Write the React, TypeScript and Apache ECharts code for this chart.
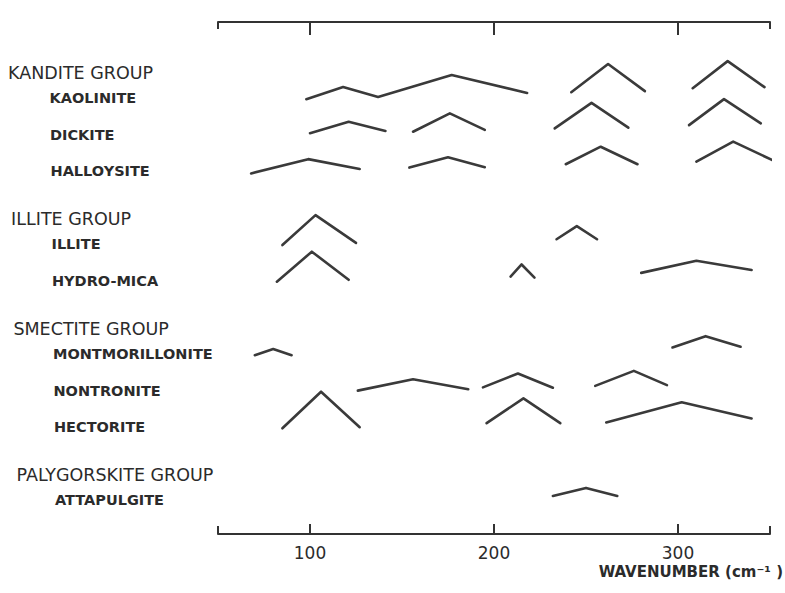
import React, { useEffect, useRef } from "react";
import * as echarts from "echarts";

// ---- data ----
const groupNames = ["KANDITE GROUP", "ILLITE GROUP", "SMECTITE GROUP", "PALYGORSKITE GROUP"];
const mineralNames = [
  "KAOLINITE",
  "DICKITE",
  "HALLOYSITE",
  "ILLITE",
  "HYDRO-MICA",
  "MONTMORILLONITE",
  "NONTRONITE",
  "HECTORITE",
  "ATTAPULGITE",
];
const mineralGroup = [0, 0, 0, 1, 1, 2, 2, 2, 3];

const axisMin = 50;
const axisMax = 350;
const tickValues = [100, 200, 300];
const endValues = [50, 350];
const axisTitle = "WAVENUMBER (cm⁻¹ )";

// Each band: [wavenumber (cm-1), height above the row baseline (tenths of a row)]
const kaoliniteBands = [
  [[98, -1.1], [118, 2.2], [137, -0.5], [177, 5.5], [218, 0.6]],
  [[242, 0.8], [262, 8.5], [282, 1.1]],
  [[308, 1.9], [327, 9.3], [347, 2.2]],
];
const dickiteBands = [
  [[100, -0.4], [121, 2.7], [141, 0.2]],
  [[156, 0], [176, 5.0], [195, 0.5]],
  [[233, 0.9], [253, 7.9], [273, 1.1]],
  [[306, 1.8], [325, 8.9], [345, 2.3]],
];
const halloysiteBands = [
  [[68, -1.4], [99, 2.5], [127, -0.2]],
  [[154, 0.2], [175, 3.0], [195, 0.3]],
  [[239, 1.1], [258, 5.9], [278, 1.1]],
  [[310, 1.8], [330, 7.3], [351, 2.3]],
];
const illiteBands = [
  [[85, -1.0], [103, 7.2], [125, -0.4]],
  [[234, 0.6], [245, 4.2], [256, 0.6]],
];
const hydroMicaBands = [
  [[82, -1.0], [101, 7.2], [121, -0.5]],
  [[209, 0.4], [215, 3.7], [222, 0.1]],
  [[280, 1.4], [310, 4.7], [340, 2.2]],
];
const montmorilloniteBands = [
  [[70, -1.1], [80, 0.6], [90, -1.1]],
  [[297, 1.0], [315, 4.1], [334, 1.2]],
];
const nontroniteBands = [
  [[126, -0.8], [156, 2.3], [186, -0.4]],
  [[194, 0.1], [213, 3.9], [232, 0]],
  [[255, 0.5], [276, 4.6], [294, 0.7]],
];
const hectoriteBands = [
  [[85, -1.1], [106, 8.9], [127, -0.8]],
  [[196, 0.3], [216, 7.1], [236, 0.3]],
  [[261, 0.5], [302, 6.0], [340, 1.6]],
];
const attapulgiteBands = [
  [[232, 0.4], [250, 2.6], [267, 0.4]],
];

const mineralBands = [
  kaoliniteBands,
  dickiteBands,
  halloysiteBands,
  illiteBands,
  hydroMicaBands,
  montmorilloniteBands,
  nontroniteBands,
  hectoriteBands,
  attapulgiteBands,
];

// ---- layout / style ----
const FONT = '"DejaVu Sans", sans-serif';
const INK = "#2b2b2b";
const LINE = "#3a3a3a";

export default function App() {
  const ref = useRef<HTMLDivElement>(null);

  useEffect(() => {
    if (!ref.current) return;
    const chart = echarts.init(ref.current, null, { renderer: "svg" });

    // sequential row slots: group header, then its minerals
    const mineralRow: number[] = [];
    const groupRow: number[] = [];
    let slot = 1;
    groupNames.forEach((_, g) => {
      groupRow[g] = slot + 0.4;
      slot += 1;
      mineralNames.forEach((_, i) => {
        if (mineralGroup[i] === g) {
          mineralRow[i] = slot;
          slot += 1;
        }
      });
    });
    const rowMax = slot;

    const series: any[] = [];
    mineralNames.forEach((name, i) => {
      mineralBands[i].forEach((band, j) => {
        series.push({
          type: "line",
          name: `${name} ${j + 1}`,
          data: band.map(([wn, h]) => [wn, mineralRow[i] - h / 10]),
          symbol: "none",
          clip: false,
          silent: true,
          lineStyle: { color: LINE, width: 2.6, cap: "round", join: "round" },
        });
      });
    });

    const tickStyle = { color: "#333", width: 2 };
    const baseX = {
      type: "value",
      min: axisMin,
      max: axisMax,
      splitLine: { show: false },
    };

    chart.setOption({
      animation: false,
      backgroundColor: "#ffffff",
      grid: { left: 218, right: 15, top: 22, bottom: 59, outerBoundsMode: "none" },
      xAxis: [
        {
          ...baseX,
          position: "bottom",
          axisLine: { onZero: false, lineStyle: { color: "#333", width: 2 } },
          axisTick: { inside: true, length: 10, customValues: tickValues, lineStyle: tickStyle },
          axisLabel: {
            customValues: tickValues,
            margin: 10,
            fontSize: 17,
            color: INK,
            fontFamily: FONT,
          },
        },
        {
          ...baseX,
          position: "bottom",
          axisLine: { show: false, onZero: false },
          axisTick: { inside: true, length: 8, customValues: endValues, lineStyle: tickStyle },
          axisLabel: { show: false },
        },
        {
          ...baseX,
          position: "top",
          axisLine: { onZero: false, lineStyle: { color: "#333", width: 2 } },
          axisTick: { inside: true, length: 13, customValues: tickValues, lineStyle: tickStyle },
          axisLabel: { show: false },
        },
        {
          ...baseX,
          position: "top",
          axisLine: { show: false, onZero: false },
          axisTick: { inside: true, length: 7, customValues: endValues, lineStyle: tickStyle },
          axisLabel: { show: false },
        },
      ],
      yAxis: { type: "value", min: 0, max: rowMax, inverse: true, show: false },
      series,
    });

    const yPx = (v: number) => chart.convertToPixel({ yAxisIndex: 0 }, v) as number;
    const graphic: any[] = [];
    groupNames.forEach((name, g) => {
      const y = yPx(groupRow[g]);
      graphic.push({
        type: "text",
        x: 8 + 0.021 * (y - 72),
        y,
        style: {
          text: name,
          fontFamily: FONT,
          fontSize: 17.5,
          fill: INK,
          textAlign: "left",
          textVerticalAlign: "middle",
        },
      });
    });
    mineralNames.forEach((name, i) => {
      const y = yPx(mineralRow[i] + 0.08);
      graphic.push({
        type: "text",
        x: 49.5 + 0.0135 * (y - 97),
        y,
        style: {
          text: name,
          fontFamily: FONT,
          fontSize: 14.5,
          fontWeight: "bold",
          fill: INK,
          textAlign: "left",
          textVerticalAlign: "middle",
        },
      });
    });
    graphic.push({
      type: "text",
      x: 783,
      y: 572,
      style: {
        text: axisTitle,
        fontFamily: FONT,
        fontSize: 15,
        fontWeight: "bold",
        fill: INK,
        textAlign: "right",
        textVerticalAlign: "middle",
      },
    });
    chart.setOption({ graphic });

    return () => chart.dispose();
  }, []);

  return (
    <div
      ref={ref}
      style={{ position: "absolute", left: 0, top: 0, width: 785, height: 593 }}
    />
  );
}
